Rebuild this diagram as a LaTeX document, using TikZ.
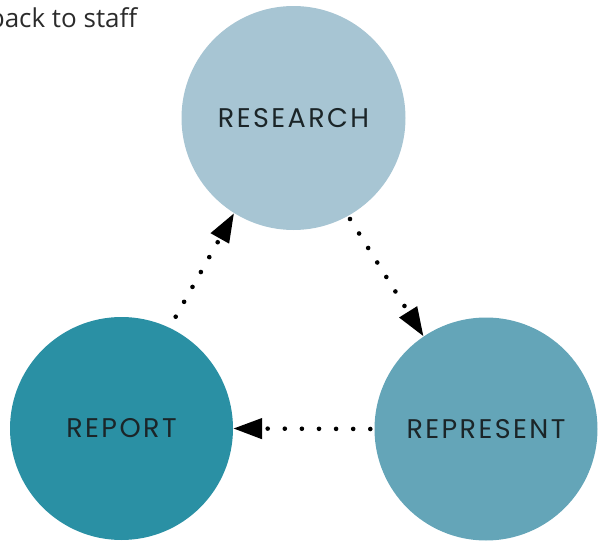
\documentclass[tikz,border=0pt]{standalone}
\usepackage{fontspec}
\setmainfont{Open Sans}
\newfontfamily\labelfont[LetterSpace=9]{Poppins}
\usetikzlibrary{arrows.meta}
\definecolor{cresearch}{HTML}{A7C5D3}
\definecolor{creport}{HTML}{2A90A4}
\definecolor{crepresent}{HTML}{64A5B8}
\definecolor{ctext}{HTML}{1B2528}
\definecolor{cnote}{HTML}{2B2B2B}
\begin{document}
\begin{tikzpicture}[x=1pt,y=-1pt,
  bubble/.style={circle,inner sep=0pt,minimum size=223pt,text=ctext,font=\labelfont\fontsize{27}{30}\selectfont},
  conn/.style={line width=4.6pt,line cap=round,dash pattern=on 0pt off 17.1pt,
    -{Triangle[length=29pt,width=20pt]}},
  note/.style={inner sep=0pt,anchor=base east,text=cnote,font=\fontsize{26}{30}\selectfont}]
\useasboundingbox (0,0) rectangle (598,541);
\node[bubble,fill=cresearch,minimum size=224pt] (research) at (293.5,118) {RESEARCH};
\node[bubble,fill=creport] (report) at (121.5,428.5) {REPORT};
\node[bubble,fill=crepresent] (represent) at (486,429) {REPRESENT};
\node[note] (staff) at (137.5,27) {back to staff};
\coordinate (s1) at (175.7,316.7);
\coordinate (s2) at (350,219);
\draw[conn] (s1) -- (research.238);
\draw[conn] (s2) -- (represent.124);
\draw[conn] ([xshift=-4pt]represent.west) -- (report.east);
\end{tikzpicture}
\end{document}
